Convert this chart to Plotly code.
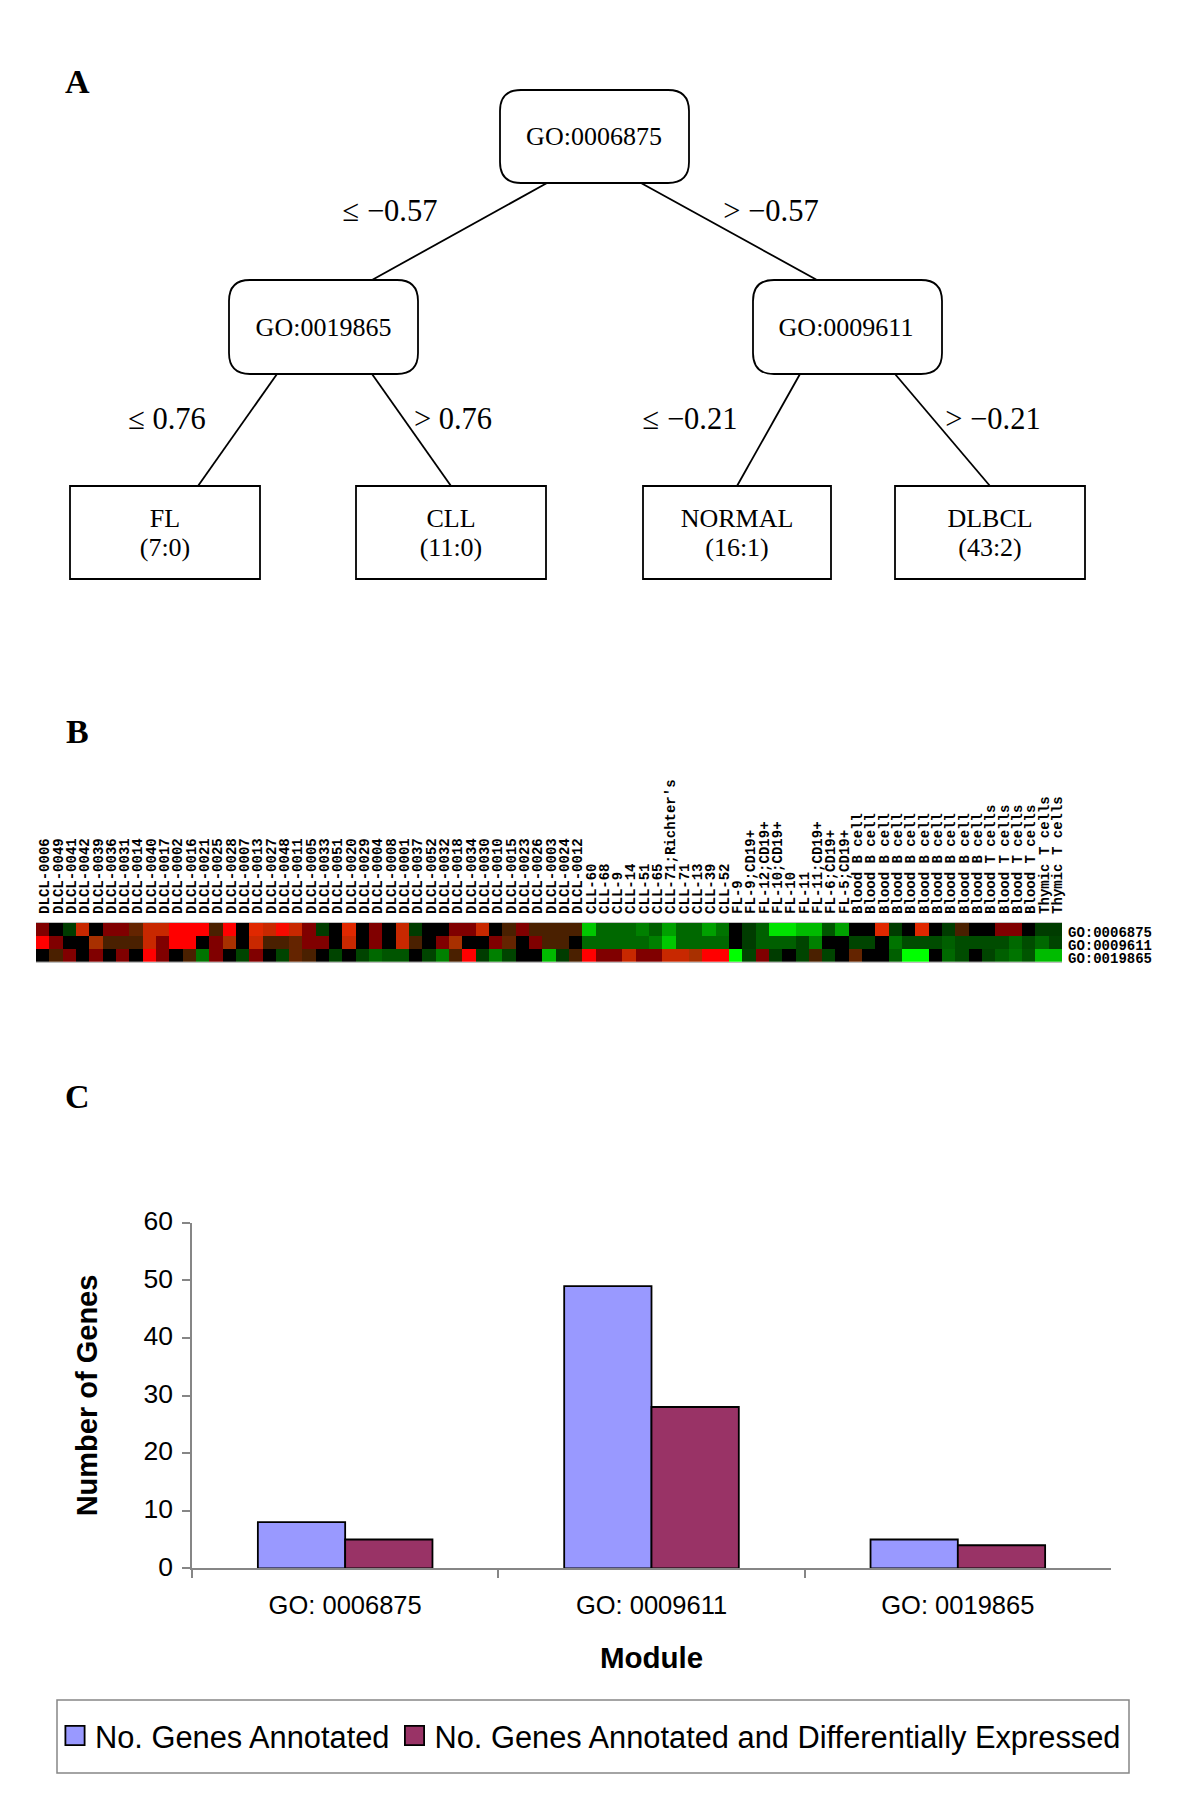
import plotly.graph_objects as go

W, H = 1200, 1810
SERIF = "Liberation Serif"
SANS = "Liberation Sans"
MONO = "Liberation Mono"

# ---------- Panel A: decision tree ----------
round_boxes = [(500, 90, 689, 183), (229, 280, 418, 374), (753, 280, 942, 374)]
leaf_boxes = [(70, 486, 260, 579), (356, 486, 546, 579), (643, 486, 831, 579), (895, 486, 1085, 579)]
edges_x = [[547, 372], [641, 817], [277, 198], [372, 451], [800, 737], [895, 990]]
edges_y = [[183, 280], [183, 280], [374, 486], [374, 486], [374, 486], [374, 486]]
node_names = ["GO:0006875", "GO:0019865", "GO:0009611"]
node_x = [594, 323.5, 846]
node_y = [138.5, 329, 329]
leaf_names = ["FL", "CLL", "NORMAL", "DLBCL"]
leaf_counts = ["(7:0)", "(11:0)", "(16:1)", "(43:2)"]
leaf_x = [165, 451, 737, 990]
leaf_name_y = [520, 520, 520, 520]
leaf_count_y = [549, 549, 549, 549]
edge_labels = ["≤ −0.57", "> −0.57", "≤ 0.76", "> 0.76", "≤ −0.21", "> −0.21"]
edge_label_x = [390, 771, 167, 453, 690, 993]
edge_label_y = [213, 213, 421, 421, 421, 421]
panel_letters = ["A", "B", "C"]
panel_letter_y = [81, 731, 1096]

# ---------- Panel B: heat map ----------
dlcl_ids = ["0006","0049","0041","0042","0039","0036","0031","0014","0040","0017","0002","0016","0021","0025",
            "0028","0007","0013","0027","0048","0011","0005","0033","0051","0020","0029","0004","0008","0001",
            "0037","0052","0032","0018","0034","0030","0010","0015","0023","0026","0003","0024","0012"]
other_samples = ["CLL-60","CLL-68","CLL-9","CLL-14","CLL-51","CLL-65","CLL-71;Richter's","CLL-71","CLL-13","CLL-39","CLL-52",
                 "FL-9","FL-9;CD19+","FL-12;CD19+","FL-10;CD19+","FL-10","FL-11","FL-11;CD19+","FL-6;CD19+","FL-5;CD19+",
                 "Blood B cell","Blood B cell","Blood B cell","Blood B cell","Blood B cell","Blood B cell","Blood B cell",
                 "Blood B cell","Blood B cell","Blood B cell","Blood T cells","Blood T cells","Blood T cells","Blood T cells",
                 "Thymic T cells","Thymic T cells"]
samples = ["DLCL-" + s for s in dlcl_ids] + other_samples
modules = ["GO:0006875", "GO:0009611", "GO:0019865"]
go0006875 = [.5,0,-.25,.75,0,.5,.5,.3,.75,.75,1,1,1,.25,1,0,.8,.75,.95,.75,.5,-.25,0,.8,0,.5,0,.75,-.25,
             0,0,.5,.5,.75,0,.25,.5,.25,.25,.25,.25,
             -.9,-.5,-.5,-.5,-.6,-.45,-.75,-.5,-.5,-.75,-.55,
             0,-.25,-.45,-.95,-.95,-.85,-.85,-.4,-.75,
             0,0,.8,-.25,0,.8,0,-.25,.25,0,0,.5,.5,0,-.25,-.25]
go0009611 = [1,.5,0,0,.7,.25,.25,.25,.75,.5,1,1,0,.5,.7,0,.75,.25,.25,.3,.5,.5,0,.75,0,.5,0,.75,.25,
             0,.5,.7,0,0,.5,.3,0,.5,.25,.25,0,
             -.5,-.5,-.5,-.5,-.5,-.6,-.9,-.5,-.5,-.5,-.5,
             0,-.25,-.45,-.45,-.45,-.3,-.6,0,0,
             -.3,-.3,0,-.55,-.35,-.35,-.35,-.45,-.35,-.35,-.35,-.35,-.5,-.35,-.5,-.3]
go0019865 = [0,.25,.5,0,.5,0,.5,0,1,.5,0,.25,-.55,.5,0,-.3,.5,0,-.3,.3,.25,0,-.3,0,-.3,-.5,-.4,-.4,0,
             -.3,-.6,.25,1,-.25,-.6,-.3,0,0,-.85,-.25,.25,
             1,.5,.5,.75,.5,.5,.75,.75,.7,1,1,
             -1,-.3,.5,-.25,0,-.3,.25,-.3,0,
             .3,0,0,-.45,-1,-1,0,-.5,-.35,0,-.3,-.45,-.55,-.4,-.85,-.85]
heat_stops = [(-1, "#00ff00"), (-.9, "#00c800"), (-.75, "#00a000"), (-.6, "#008000"), (-.5, "#006800"),
              (-.35, "#004c00"), (-.25, "#003c00"), (0, "#000000"), (.25, "#4a2000"), (.3, "#642400"),
              (.5, "#800000"), (.7, "#a83000"), (.75, "#c82800"), (.8, "#e02800"), (1, "#ff0000")]

# ---------- Panel C: bars ----------
go_terms = ["GO: 0006875", "GO: 0009611", "GO: 0019865"]
annotated = [8, 49, 5]
annotated_de = [5, 28, 4]
series_names = ["No. Genes Annotated", "No. Genes Annotated and Differentially Expressed"]
bar_colors = ["#9999ff", "#993366"]

GREY = "#868686"


def rounded(x0, y0, x1, y1, r=21):
    return (f"M{x0+r},{y0} L{x1-r},{y0} Q{x1},{y0} {x1},{y0+r} L{x1},{y1-r} Q{x1},{y1} {x1-r},{y1} "
            f"L{x0+r},{y1} Q{x0},{y1} {x0},{y1-r} L{x0},{y0+r} Q{x0},{y0} {x0+r},{y0} Z")


fig = go.Figure()

# tree edges and labels on the full-page axes
for ex, ey in zip(edges_x, edges_y):
    fig.add_trace(go.Scatter(x=ex, y=ey, mode="lines", line=dict(color="black", width=1.8),
                             showlegend=False, hoverinfo="skip", xaxis="x", yaxis="y"))


def text_trace(xs, ys, texts, size, family=SERIF):
    fig.add_trace(go.Scatter(x=xs, y=ys, text=texts, mode="text", textposition="middle center",
                             textfont=dict(family=family, size=size, color="black"),
                             showlegend=False, hoverinfo="skip", xaxis="x", yaxis="y"))


text_trace(node_x, node_y, node_names, 26)
text_trace(leaf_x, leaf_name_y, leaf_names, 26)
text_trace(leaf_x, leaf_count_y, leaf_counts, 26)
text_trace(edge_label_x, edge_label_y, edge_labels, 30.5)

# heat map
zmin, zmax = -1, 1
fig.add_trace(go.Heatmap(
    z=[go0006875, go0009611, go0019865], x=list(range(len(samples))), y=modules,
    zmin=zmin, zmax=zmax, showscale=False, xaxis="x2", yaxis="y2",
    colorscale=[[(v - zmin) / (zmax - zmin), c] for v, c in heat_stops],
))

# bars
for name, vals, col in zip(series_names, [annotated, annotated_de], bar_colors):
    fig.add_trace(go.Bar(x=go_terms, y=vals, name=name, xaxis="x3", yaxis="y3",
                         marker=dict(color=col, line=dict(color="black", width=1.8))))

shapes = [dict(type="path", path=rounded(*b), xref="x", yref="y", line=dict(color="black", width=1.8),
               fillcolor="rgba(0,0,0,0)") for b in round_boxes]
shapes += [dict(type="rect", x0=b[0], y0=b[1], x1=b[2], y1=b[3], xref="x", yref="y",
                line=dict(color="black", width=1.8)) for b in leaf_boxes]
shapes.append(dict(type="rect", x0=57, y0=1700, x1=1129, y1=1773, xref="x", yref="y",
                   line=dict(color=GREY, width=1.5)))

annotations = [dict(text=f"<b>{t}</b>", x=77, y=y, xref="x", yref="y", showarrow=False,
                    font=dict(family=SERIF, size=34, color="black"))
               for t, y in zip(panel_letters, panel_letter_y)]

fig.update_layout(
    width=W, height=H, margin=dict(l=0, r=0, t=0, b=0, autoexpand=False),
    paper_bgcolor="white", plot_bgcolor="white",
    barmode="group", bargap=0.43, bargroupgap=0,
    shapes=shapes, annotations=annotations,
    xaxis=dict(domain=[0, 1], range=[0, W], visible=False, fixedrange=True),
    yaxis=dict(domain=[0, 1], range=[H, 0], visible=False, fixedrange=True),
    xaxis2=dict(domain=[36 / W, 1062 / W], anchor="y2", side="top", range=[-0.5, len(samples) - 0.5],
                tickmode="array", tickvals=list(range(len(samples))), ticktext=samples,
                tickangle=-90, ticks="", ticklabelstandoff=5, ticklabelshift=2, showgrid=False, zeroline=False,
                showline=True, mirror=True, linecolor="#bdbdbd", linewidth=1,
                tickfont=dict(family=MONO, size=14, weight="bold", color="black")),
    yaxis2=dict(domain=[1 - 962 / H, 1 - 922.7 / H], anchor="x2", side="right", autorange="reversed",
                tickmode="array", tickvals=modules, ticktext=modules,
                ticks="", ticklabelstandoff=5, ticklabelshift=-3, showgrid=False, zeroline=False, showline=False,
                tickfont=dict(family=MONO, size=14, weight="bold", color="black")),
    xaxis3=dict(domain=[192 / W, 1111 / W], anchor="y3", type="category", range=[-0.5, 2.5],
                tickson="boundaries", ticks="outside", ticklen=8, tickcolor=GREY, tickwidth=1.5,
                showline=True, linecolor=GREY, linewidth=1.5, showgrid=False, zeroline=False,
                ticklabelstandoff=13, tickfont=dict(family=SANS, size=25.5, color="black"),
                title=dict(text="<b>Module</b>", font=dict(family=SANS, size=29.5, color="black"), standoff=30)),
    yaxis3=dict(domain=[1 - 1568.3 / H, 1 - 1222.7 / H], anchor="x3", range=[0, 60], dtick=10,
                ticks="outside", ticklen=8, tickcolor=GREY, tickwidth=1.5,
                showline=True, linecolor=GREY, linewidth=1.5, showgrid=False, zeroline=False,
                ticklabelstandoff=4, ticklabelshift=-2, tickfont=dict(family=SANS, size=26.5, color="black"),
                title=dict(text="<b>Number of Genes</b>", font=dict(family=SANS, size=29, color="black"), standoff=37)),
    legend=dict(orientation="h", x=55 / W, y=1 - 1736 / H, xanchor="left", yanchor="middle",
                font=dict(family=SANS, size=30.8, color="black"), bgcolor="rgba(0,0,0,0)", borderwidth=0,
                traceorder="normal", itemclick=False, itemdoubleclick=False),
    showlegend=True,
)

post = """
document.body.style.margin='0';
document.querySelectorAll('.legend .legendbar path, .legend .legendpoints path').forEach(function(p){
  p.setAttribute('transform',(p.getAttribute('transform')||'')+' scale(1.6)');
  p.style.vectorEffect='non-scaling-stroke';
});
"""
fig.write_html("out.html", post_script=post, config=dict(displayModeBar=False))
